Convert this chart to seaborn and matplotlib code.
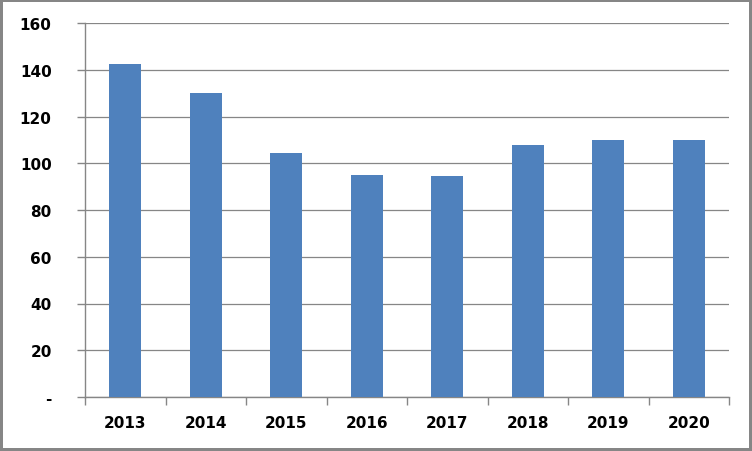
import matplotlib
matplotlib.use("Agg")
import matplotlib.pyplot as plt
import matplotlib.ticker as mticker
import pandas as pd
import seaborn as sns

years = ["2013", "2014", "2015", "2016", "2017", "2018", "2019", "2020"]
values = [142.5, 130.0, 104.4, 95.0, 94.5, 107.8, 110.0, 110.0]

df = pd.DataFrame({"year": years, "value": values})

sns.set_style("white")
plt.rcParams["font.family"] = ["DejaVu Sans"]

grey = "#868686"

fig = plt.figure(figsize=(7.52, 4.52), dpi=100)
fig.patch.set_edgecolor(grey)
fig.patch.set_linewidth(4)
ax = fig.add_axes([85 / 752, 1 - 398 / 452, 644 / 752, 374 / 452])

sns.barplot(data=df, x="year", y="value", color="#4F81BD", saturation=1,
            width=0.4, linewidth=0, ax=ax, zorder=3)

ax.set_xlim(-0.5, len(years) - 0.5)
ax.set_ylim(0, 160)
ax.set_xlabel("")
ax.set_ylabel("")

# y axis
ax.yaxis.set_major_locator(mticker.MultipleLocator(20))
ax.yaxis.set_major_formatter(
    mticker.FuncFormatter(lambda v, p: "-" if v == 0 else f"{v:.0f}"))
ax.tick_params(axis="y", which="major", length=6, width=1, color=grey,
               direction="out", pad=18, labelsize=11, labelcolor="black",
               left=True)
ax.grid(axis="y", color=grey, linewidth=0.9, zorder=0)
ax.set_axisbelow(True)

# x axis: tick marks at category boundaries, labels at centers
ax.xaxis.set_major_locator(mticker.FixedLocator([i - 0.5 for i in range(len(years) + 1)]))
ax.xaxis.set_major_formatter(mticker.NullFormatter())
ax.xaxis.set_minor_locator(mticker.FixedLocator(list(range(len(years)))))
ax.xaxis.set_minor_formatter(mticker.FixedFormatter(years))
ax.tick_params(axis="x", which="major", length=6, width=1, color=grey,
               direction="out", bottom=True)
ax.tick_params(axis="x", which="minor", length=0, pad=13, labelsize=11,
               labelcolor="black")

for lbl in ax.get_yticklabels() + ax.get_xticklabels(minor=True):
    lbl.set_fontweight("bold")

sns.despine(ax=ax, top=True, right=True)
for side in ["left", "bottom"]:
    ax.spines[side].set_color(grey)
    ax.spines[side].set_linewidth(1)

fig.savefig("out.png", dpi=100, edgecolor=fig.get_edgecolor())
